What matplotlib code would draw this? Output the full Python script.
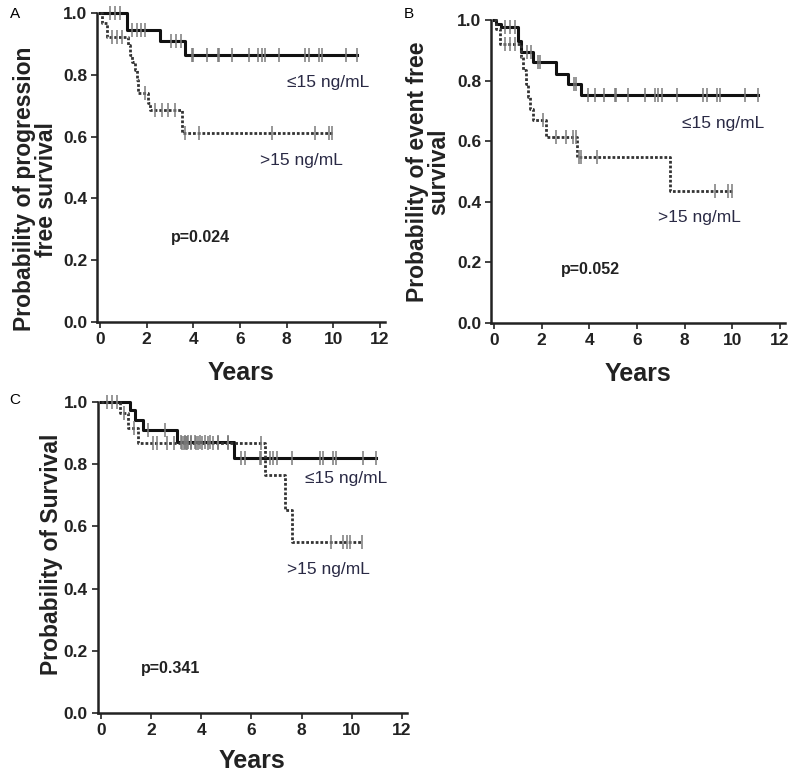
import numpy as np
import matplotlib
matplotlib.use("Agg")
import matplotlib.pyplot as plt

plt.rcParams['font.family'] = ['Liberation Sans', 'DejaVu Sans']

# Panel A - progression free survival
a_le_t = [1.14, 2.57, 3.62]
a_le_s = [0.946, 0.910, 0.864]
a_le_c = [0.43, 0.64, 0.86, 1.36, 1.57, 1.76, 1.93, 3.05, 3.25, 3.48, 3.93, 4.0,
          4.58, 5.05, 5.08, 5.65, 6.37, 6.79, 6.94, 7.08, 7.65, 8.80, 8.94, 9.37,
          9.51, 10.52, 11.02]
a_gt_t = [0.07, 0.29, 1.19, 1.29, 1.36, 1.50, 1.57, 1.64, 2.07, 2.15, 3.53]
a_gt_s = [0.967, 0.923, 0.896, 0.864, 0.842, 0.816, 0.783, 0.740, 0.708, 0.686, 0.613]
a_gt_c = [0.50, 0.72, 0.93, 1.93, 2.36, 2.65, 2.93, 3.22, 3.65, 4.22, 7.37, 9.23,
          9.80, 9.94]

# Panel B - event free survival
b_le_t = [0.10, 0.31, 1.0, 1.12, 1.64, 2.62, 3.10, 3.64]
b_le_s = [0.988, 0.977, 0.932, 0.894, 0.861, 0.823, 0.790, 0.751]
b_le_c = [0.45, 0.66, 0.87, 1.40, 1.54, 1.85, 1.92, 3.36, 3.45, 3.96, 4.24, 4.62,
          5.08, 5.11, 5.64, 6.34, 6.76, 6.90, 7.04, 7.69, 8.78, 8.93, 9.35, 9.48,
          10.53, 11.09]
b_gt_t = [0.10, 0.24, 1.15, 1.22, 1.36, 1.43, 1.50, 1.64, 2.20, 3.50, 7.39]
b_gt_s = [0.971, 0.922, 0.878, 0.834, 0.790, 0.746, 0.707, 0.669, 0.614, 0.548, 0.437]
b_gt_c = [0.45, 0.66, 0.87, 2.06, 2.62, 3.03, 3.31, 3.45, 3.58, 3.66, 4.31, 9.27,
          9.83, 9.97]

# Panel C - overall survival
c_le_t = [1.16, 1.35, 1.69, 3.05, 5.31]
c_le_s = [0.974, 0.942, 0.910, 0.872, 0.821]
c_le_c = [0.23, 0.43, 0.63, 1.88, 2.55, 3.21, 3.35, 3.48, 3.61, 3.75, 3.94, 4.14,
          4.34, 4.67, 5.07, 5.6, 5.74, 6.33, 6.4, 6.73, 6.86, 7.0, 7.6, 8.73,
          8.86, 9.26, 9.39, 10.45, 10.98]
c_gt_t = [0.76, 1.09, 1.49, 6.53, 7.33, 7.60]
c_gt_s = [0.964, 0.915, 0.868, 0.765, 0.653, 0.551]
c_gt_c = [0.9, 1.3, 2.08, 2.22, 2.62, 2.92, 3.25, 3.32, 3.39, 3.45, 3.59, 3.78,
          3.88, 4.01, 4.28, 4.47, 4.67, 5.07, 6.40, 9.19, 9.65, 9.79, 9.92, 10.39]

label_le = "\u226415 ng/mL"
label_gt = ">15 ng/mL"


def km(ax, t, s, c, ls, lw, color):
    x = [0] + list(t) + [max(c)]
    y = [1.0] + list(s) + [s[-1]]
    ax.step(x, y, where='post', color=color, lw=lw, ls=ls, clip_on=False, zorder=3)
    idx = np.searchsorted(t, c, side='right')
    ys = np.array([1.0] + list(s))[idx]
    ax.plot(c, ys, ls='none', marker='|', ms=10, mew=1.1, color='#7a7a7a',
            clip_on=False, zorder=4)


def panel(rect, ylab, ylab_xy, le, gt, pos_le, pos_gt, pval, pos_p, xpad):
    ax = fig.add_axes(rect)
    km(ax, *le, '-', 2.2, '#111111')
    km(ax, *gt, (0, (1, 0.7)), 2.0, '#333333')
    ax.set_xlim(-0.13, 12.2)
    ax.set_ylim(0, 1.0)
    ax.set_xticks(np.arange(0, 13, 2))
    ax.set_yticks(np.arange(0, 1.01, 0.2))
    ax.set_yticklabels([f"{v:.1f}" for v in np.arange(0, 1.01, 0.2)])
    for sp in ['top', 'right']:
        ax.spines[sp].set_visible(False)
    for sp in ['left', 'bottom']:
        ax.spines[sp].set_linewidth(1.8)
        ax.spines[sp].set_color('#222222')
    ax.tick_params(direction='out', length=4, width=1.2, colors='#222222',
                   labelsize=12.5, pad=3)
    for lb in ax.get_xticklabels() + ax.get_yticklabels():
        lb.set_fontweight('bold')
    ax.set_xlabel("Years", fontsize=18, fontweight='bold', color='#222222', labelpad=xpad)
    ax.set_ylabel(ylab, fontsize=16.5, fontweight='bold', color='#222222',
                  linespacing=0.95)
    ax.yaxis.set_label_coords(*ylab_xy)
    ax.text(*pos_le, label_le, fontsize=12.5, color='#2a2a45', va='center')
    ax.text(*pos_gt, label_gt, fontsize=12.5, color='#2a2a45', va='center')
    ax.text(*pos_p, pval, fontsize=11.5, fontweight='bold', color='#222222', va='center')
    return ax


fig = plt.figure(figsize=(8, 7.74), dpi=100)

panel([0.1213, 0.584, 0.3596, 0.399], "Probability of progression\nfree survival",
      (-0.136, 0.43),
      (a_le_t, a_le_s, a_le_c), (a_gt_t, a_gt_s, a_gt_c),
      (8.0, 0.777), (6.87, 0.524), "p=0.024", (3.05, 0.272), 10)
panel([0.6136, 0.5827, 0.3672, 0.3915], "Probability of event free\nsurvival",
      (-0.137, 0.5),
      (b_le_t, b_le_s, b_le_c), (b_gt_t, b_gt_s, b_gt_c),
      (7.88, 0.659), (6.88, 0.347), "p=0.052", (2.8, 0.175), 10)
panel([0.1221, 0.0788, 0.3866, 0.4018], "Probability of Survival",
      (-0.113, 0.51),
      (c_le_t, c_le_s, c_le_c), (c_gt_t, c_gt_s, c_gt_c),
      (8.13, 0.755), (7.4, 0.46), "p=0.341", (1.6, 0.144), 8)

fig.text(15 / 800, 1 - 14 / 774, 'A', fontsize=11, va='center', ha='center')
fig.text(409 / 800, 1 - 14 / 774, 'B', fontsize=11, va='center', ha='center')
fig.text(15 / 800, 1 - 400 / 774, 'C', fontsize=11, va='center', ha='center')

fig.savefig("out.png", dpi=100)
